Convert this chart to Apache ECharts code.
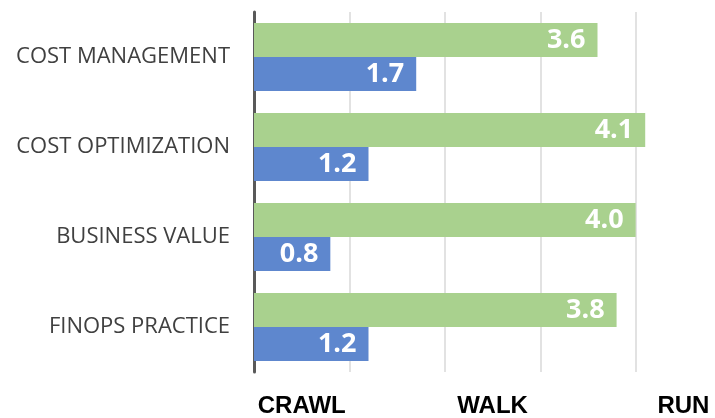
<!DOCTYPE html>
<html>
<head>
<meta charset="utf-8">
<script src="https://cdn.jsdelivr.net/npm/echarts@6/dist/echarts.min.js"></script>
<style>
  html, body { margin: 0; padding: 0; background: #fff; }
  #chart { width: 715px; height: 418px; }
</style>
</head>
<body>
<div id="chart"></div>
<script>
const categories = ['COST MANAGEMENT', 'COST OPTIMIZATION', 'BUSINESS VALUE', 'FINOPS PRACTICE'];
const greenValues = [3.6, 4.1, 4.0, 3.8];
const blueValues = [1.7, 1.2, 0.8, 1.2];
const stageLabels = { '0.5': 'CRAWL', '2.5': 'WALK', '4.5': 'RUN' };

const chart = echarts.init(document.getElementById('chart'));

const barLabel = {
  show: true,
  position: 'insideRight',
  distance: 12,
  color: '#fff',
  fontFamily: 'Open Sans',
  fontWeight: 'bold',
  fontSize: 27,
  formatter: p => p.value.toFixed(1)
};

let option = {
  animation: false,
  grid: { left: 254, right: 3, top: 12, bottom: 44 },
  xAxis: [{
    type: 'value',
    min: 0,
    max: 4.8,
    interval: 1,
    axisLine: { show: false },
    axisTick: { show: false },
    axisLabel: { show: false },
    splitLine: { showMaxLine: false, lineStyle: { color: '#d9d9d9', width: 1.5 } }
  }, {
    type: 'value',
    position: 'bottom',
    min: 0,
    max: 4.8,
    interval: 0.5,
    axisLine: { show: false },
    axisTick: { show: false },
    splitLine: { show: false },
    axisLabel: {
      margin: 22,
      color: '#000',
      fontFamily: 'Liberation Sans',
      fontWeight: 'bold',
      fontSize: 24,
      formatter: v => stageLabels[v.toFixed(1)] || ''
    }
  }],
  yAxis: {
    type: 'category',
    inverse: true,
    data: categories,
    axisLine: { lineStyle: { color: '#595959', width: 3 } },
    axisTick: { show: false },
    axisLabel: {
      margin: 24,
      color: '#404040',
      fontFamily: 'Open Sans',
      fontSize: 22
    }
  },
  series: [{
    type: 'bar',
    data: greenValues,
    barWidth: 34,
    barGap: '0%',
    itemStyle: { color: '#a9d18e' },
    label: barLabel
  }, {
    type: 'bar',
    data: blueValues,
    barWidth: 34,
    barGap: '0%',
    itemStyle: { color: '#5e87ce' },
    label: barLabel
  }]
};

chart.setOption(option);
</script>
</body>
</html>
